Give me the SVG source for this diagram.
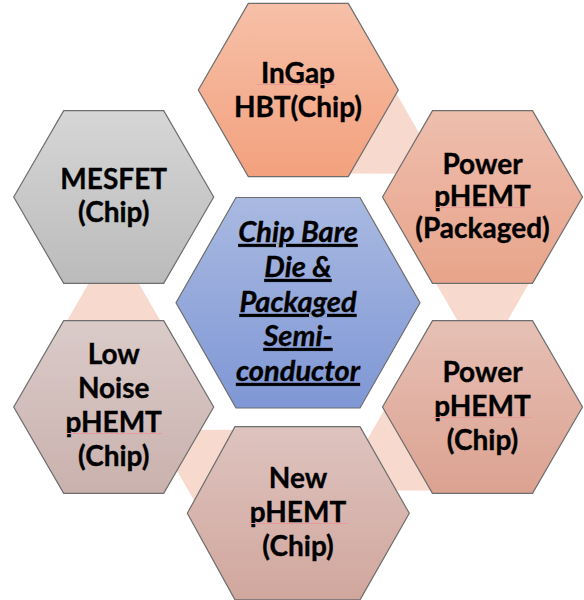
<svg xmlns="http://www.w3.org/2000/svg" width="584" height="600" viewBox="0 0 584 600">
<defs>
<linearGradient id="gInGap" x1="0" y1="0" x2="0" y2="1"><stop offset="0" stop-color="#F6C0A8"/><stop offset="1" stop-color="#F3A17E"/></linearGradient>
<linearGradient id="gPPack" x1="0" y1="0" x2="0" y2="1"><stop offset="0" stop-color="#EEBEAD"/><stop offset="1" stop-color="#E8A48B"/></linearGradient>
<linearGradient id="gPChip" x1="0" y1="0" x2="0" y2="1"><stop offset="0" stop-color="#E6C0B5"/><stop offset="1" stop-color="#DCA291"/></linearGradient>
<linearGradient id="gNew" x1="0" y1="0" x2="0" y2="1"><stop offset="0" stop-color="#DEC3BF"/><stop offset="1" stop-color="#D1A79D"/></linearGradient>
<linearGradient id="gLow" x1="0" y1="0" x2="0" y2="1"><stop offset="0" stop-color="#DACBC9"/><stop offset="1" stop-color="#CAB1AD"/></linearGradient>
<linearGradient id="gMes" x1="0" y1="0" x2="0" y2="1"><stop offset="0" stop-color="#D6D6D6"/><stop offset="1" stop-color="#BBBBBB"/></linearGradient>
<linearGradient id="gCenter" x1="0" y1="0" x2="0" y2="1"><stop offset="0" stop-color="#A9B9E1"/><stop offset="1" stop-color="#7F97D5"/></linearGradient>
</defs>
<style>
.hex{stroke:#6E6E6E;stroke-width:1.2}
.conn{fill:#F8D9CD;stroke:none}
.lbl{font-family:Lato,"Open Sans","Liberation Sans",sans-serif;font-weight:bold;font-size:28px;fill:#000;stroke:#000;stroke-width:0.35;text-anchor:middle}
.ctr{font-style:italic;text-decoration:underline;font-size:29px}
.spell{stroke:#E89A9A;stroke-width:1}
</style>
<rect width="584" height="600" fill="#FFFFFF"/>
<g id="connectors">
<polygon class="conn" points="318.9,173.6 380.9,66.6 442.5,173.8"/>
<polygon class="conn" points="420.7,257 544.3,257 482.5,364"/>
<polygon class="conn" points="399.6,383.4 461.4,490.6 337.8,490.4"/>
<polygon class="conn" points="276.9,429.8 215.1,536.8 153.3,429.9"/>
<polygon class="conn" points="51.9,347 175.5,347 113.7,240"/>
</g>
<g id="node-ingap">
<polygon class="hex" fill="url(#gInGap)" points="198.3,90 248.3,3.4 348.3,3.4 398.3,90 348.3,176.6 248.3,176.6"/>
<text class="lbl" x="298" y="83">InGap</text>
<text class="lbl" x="298" y="117">HBT(Chip)</text>
<line class="spell" x1="257" y1="84.5" x2="336" y2="84.5"/>
</g>
<g id="node-power-packaged">
<polygon class="hex" fill="url(#gPPack)" points="382.5,197 432.5,110.7 532.5,110.7 582.5,197 532.5,283.3 432.5,283.3"/>
<text class="lbl" x="482.5" y="174">Power</text>
<text class="lbl" x="482.5" y="206">pHEMT</text>
<text class="lbl" x="482.5" y="238">(Packaged)</text>
<line class="spell" x1="436" y1="207.5" x2="525" y2="207.5"/>
</g>
<g id="node-power-chip">
<polygon class="hex" fill="url(#gPChip)" points="382.5,407 432.5,320.7 532.5,320.7 582.5,407 532.5,493.3 432.5,493.3"/>
<text class="lbl" x="482.5" y="382">Power</text>
<text class="lbl" x="482.5" y="416">pHEMT</text>
<text class="lbl" x="482.5" y="450">(Chip)</text>
<line class="spell" x1="432" y1="417.5" x2="532" y2="417.5"/>
</g>
<g id="node-new-phemt">
<polygon class="hex" fill="url(#gNew)" points="187.3,513.3 235,426.7 360,426.7 409.3,513.3 360,599.9 235,599.9"/>
<text class="lbl" x="298" y="488">New</text>
<text class="lbl" x="298" y="522">pHEMT</text>
<text class="lbl" x="298" y="556">(Chip)</text>
<line class="spell" x1="250" y1="523.5" x2="348" y2="523.5"/>
</g>
<g id="node-low-noise">
<polygon class="hex" fill="url(#gLow)" points="13.7,407 63.7,320.7 163.7,320.7 213.7,407 163.7,493.3 63.7,493.3"/>
<text class="lbl" x="113.7" y="364">Low</text>
<text class="lbl" x="113.7" y="398">Noise</text>
<text class="lbl" x="113.7" y="432">pHEMT</text>
<text class="lbl" x="113.7" y="466">(Chip)</text>
<line class="spell" x1="67" y1="433.5" x2="162" y2="433.5"/>
</g>
<g id="node-mesfet">
<polygon class="hex" fill="url(#gMes)" points="13.7,197 63.7,110.7 163.7,110.7 213.7,197 163.7,283.3 63.7,283.3"/>
<text class="lbl" x="113.7" y="189">MESFET</text>
<text class="lbl" x="113.7" y="222">(Chip)</text>
</g>
<g id="node-center">
<polygon class="hex" fill="url(#gCenter)" points="176,302.8 236,197.5 360,197.5 420,302.8 360,408 236,408"/>
<text class="lbl ctr" x="298" y="242">Chip Bare</text>
<text class="lbl ctr" x="298" y="277">Die &amp;</text>
<text class="lbl ctr" x="298" y="312">Packaged</text>
<text class="lbl ctr" x="298" y="346">Semi-</text>
<text class="lbl ctr" x="298" y="381">conductor</text>
</g>
</svg>
